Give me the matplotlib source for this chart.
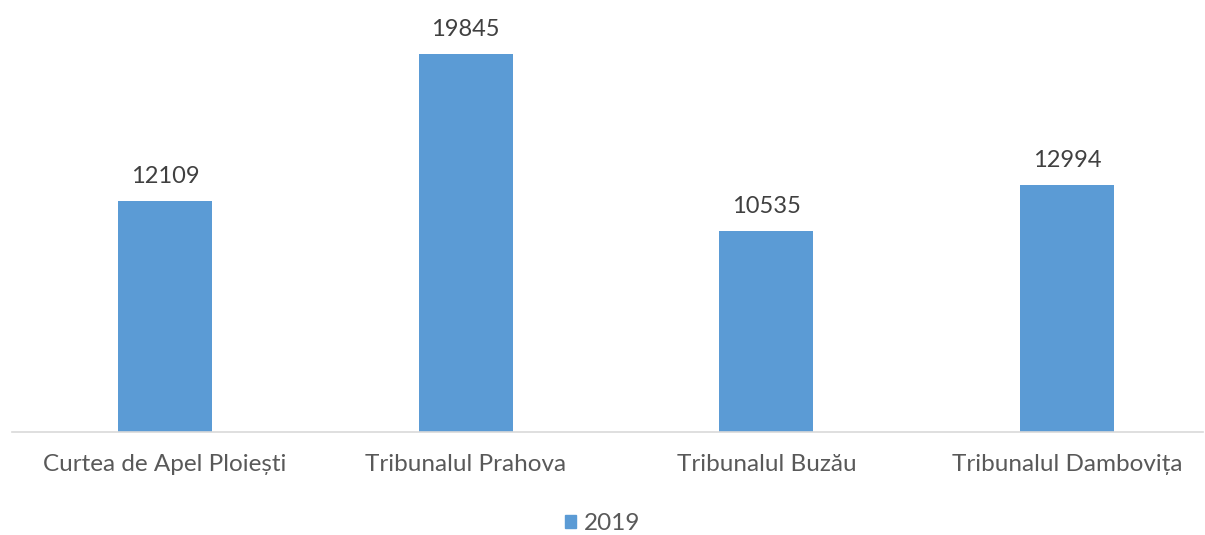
import matplotlib.pyplot as plt
from matplotlib.patches import Patch

categorii = ["Curtea de Apel Ploiești", "Tribunalul Prahova", "Tribunalul Buzău", "Tribunalul Dambovița"]
valori_2019 = [12109, 19845, 10535, 12994]
serie = "2019"

plt.rcParams["font.family"] = ["Lato", "DejaVu Sans"]

fig = plt.figure(figsize=(12.05, 5.35), dpi=100)
ax = fig.add_axes([12 / 1205, 103 / 535, 1191 / 1205, 419 / 535])

x = range(len(categorii))
bare = ax.bar(x, valori_2019, width=0.313, color="#5B9BD5")
for b, v in zip(bare, valori_2019):
    ax.annotate(str(v), (b.get_x() + b.get_width() / 2, v), xytext=(0, 14),
                textcoords="offset pixels", ha="center", va="bottom",
                fontsize=17, color="#404040")

ax.set_xlim(-0.509, 3.452)
ax.set_ylim(0, 22000)
ax.set_xticks(list(x))
ax.set_xticklabels(categorii, fontsize=17.5, color="#595959")
ax.tick_params(axis="x", length=0, pad=16)
ax.set_yticks([])
for s in ["top", "left", "right"]:
    ax.spines[s].set_visible(False)
ax.spines["bottom"].set_color("#D9D9D9")
ax.spines["bottom"].set_linewidth(1.2)

fig.legend(handles=[Patch(color="#5B9BD5", label=serie)], loc="center",
           bbox_to_anchor=(0.5, 1 - 524 / 535), frameon=False, fontsize=17.5,
           handlelength=0.45, handleheight=0.45, handletextpad=0.35,
           labelcolor="#595959")

fig.savefig("out.png", dpi=100)
